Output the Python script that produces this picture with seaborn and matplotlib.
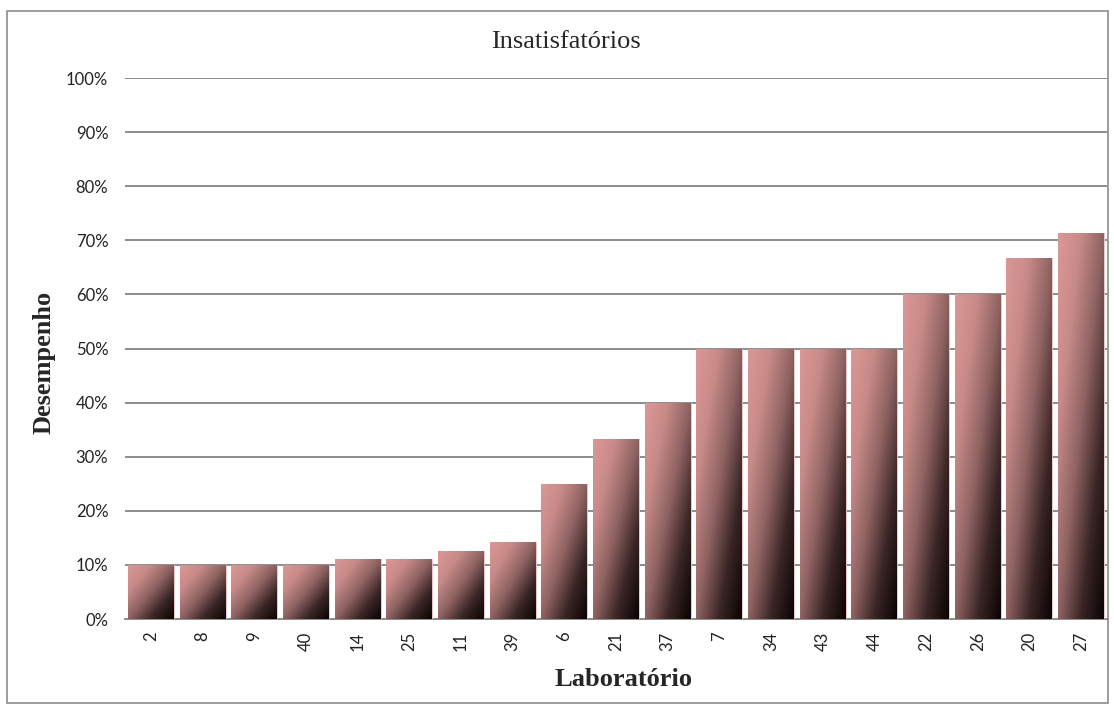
import numpy as np
import pandas as pd
import matplotlib
matplotlib.use('Agg')
import matplotlib.pyplot as plt
import seaborn as sns
from matplotlib.colors import LinearSegmentedColormap
from matplotlib.ticker import PercentFormatter
from matplotlib.patches import Rectangle

# data
labs = ['2', '8', '9', '40', '14', '25', '11', '39', '6', '21', '37',
        '7', '34', '43', '44', '22', '26', '20', '27']
desempenho = [0.10, 0.10, 0.10, 0.10, 0.111, 0.111, 0.125, 0.143, 0.25, 0.333, 0.40,
              0.50, 0.50, 0.50, 0.50, 0.60, 0.60, 0.667, 0.714]
yticks = [0, 0.1, 0.2, 0.3, 0.4, 0.5, 0.6, 0.7, 0.8, 0.9, 1.0]

df = pd.DataFrame({'lab': labs, 'val': desempenho})

sns.set_style('white')
plt.rcParams['font.family'] = ['Lato', 'DejaVu Sans']

fig = plt.figure(figsize=(11.14, 7.06), dpi=100)
ax = fig.add_axes([0.1122, 0.1232, 0.8815, 0.7663])

sns.barplot(data=df, x='lab', y='val', order=labs, width=0.89,
            color='#D99694', ax=ax, zorder=3)

# diagonal gradient pink (top-left) -> black (bottom-right) inside each bar
cmap = LinearSegmentedColormap.from_list(
    'bar', ['#DA9896', '#C88A88', '#8E6362', '#3A2525', '#0A0404'])
gx, gy = np.meshgrid(np.linspace(0, 1, 64), np.linspace(0, 1, 256))
grad = (gx + gy) / 2  # origin upper: row 0 = top
for p in ax.patches:
    x0, y0 = p.get_x(), p.get_y()
    w, h = p.get_width(), p.get_height()
    im = ax.imshow(grad, cmap=cmap, vmin=0, vmax=1, aspect='auto',
                   extent=[x0, x0 + w, y0, y0 + h], origin='upper', zorder=4)
    im.set_clip_path(p)
    p.set_edgecolor('#E8C8C7')
    p.set_linewidth(0.6)

ax.set_xlim(-0.5, len(labs) - 0.5)
ax.set_ylim(0, 1.0)
ax.set_yticks(yticks)
ax.yaxis.set_major_formatter(PercentFormatter(1.0, decimals=0))
ax.yaxis.grid(True, color='#8C8C8C', linewidth=1.4, zorder=1)
ax.set_axisbelow(True)
for s in ['top', 'right', 'left']:
    ax.spines[s].set_visible(False)
ax.spines['bottom'].set_color('#8C8C8C')
ax.spines['bottom'].set_linewidth(1.4)
ax.tick_params(axis='y', length=0, pad=12, labelsize=12, labelcolor='#222222')
ax.tick_params(axis='x', length=0, pad=9, labelsize=12, labelcolor='#222222',
               labelrotation=90)

ax.set_xlabel('')
ax.set_ylabel('')
fig.text(0.56, 0.038, 'Laboratório', ha='center', va='center',
         family='Liberation Serif', fontweight='bold', fontsize=19)
fig.text(0.04, 0.487, 'Desempenho', ha='center', va='center', rotation=90,
         family='Liberation Serif', fontweight='bold', fontsize=19)
fig.text(0.508, 0.941, 'Insatisfatórios', ha='center', va='center',
         family='Liberation Serif', fontsize=19)

# outer chart border
fig.patches.append(Rectangle((0.0065, 0.0045), 0.9885, 0.98, transform=fig.transFigure,
                             fill=False, edgecolor='#8C8C8C', linewidth=1.2))

fig.savefig('out.png', dpi=100)
